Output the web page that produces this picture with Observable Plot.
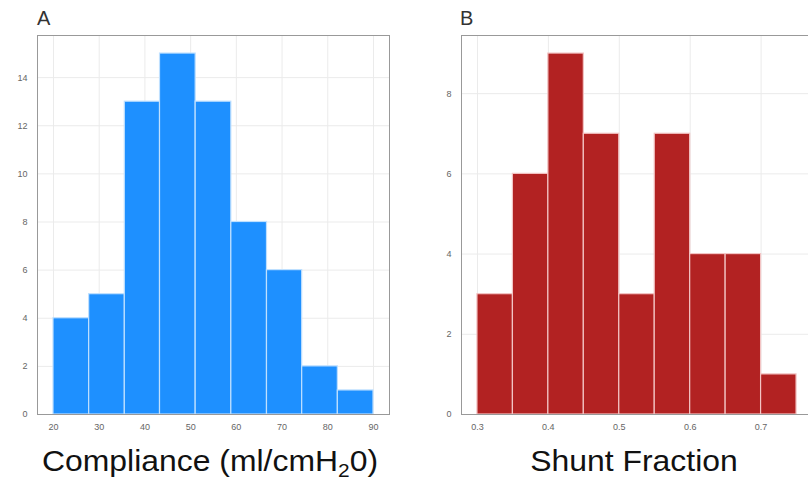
<!DOCTYPE html>
<html>
<head>
<meta charset="utf-8">
<script src="https://cdn.jsdelivr.net/npm/d3@7"></script>
<script src="https://cdn.jsdelivr.net/npm/@observablehq/plot@0.6"></script>
<style>
  html, body { margin: 0; padding: 0; background: #fff; }
  body { width: 808px; height: 483px; overflow: hidden; position: relative; font-family: "Liberation Sans", Arial, sans-serif; }
  .panel { position: absolute; top: 0; line-height: 0; width: 420px; }
  .panel svg { display: block; max-width: none !important; }
  .lbl { position: absolute; top: 7px; font-size: 20px; color: #333; line-height: 1.15; }
  .xlab { position: absolute; top: 445px; font-size: 29px; color: #111; transform: translateX(-50%) scaleX(1.1); white-space: nowrap; line-height: 1.15; }
  .xlab sub { font-size: 19px; vertical-align: -6px; line-height: 0; }
</style>
</head>
<body>
<div id="a" class="panel" style="left:0px"></div>
<div id="b" class="panel" style="left:400px"></div>
<div class="lbl" style="left:37px">A</div>
<div class="lbl" style="left:460px">B</div>
<div class="xlab" style="left:210px">Compliance (ml/cmH<sub>2</sub>0)</div>
<div class="xlab" style="left:634px">Shunt Fraction</div>
<script>
// Panel A: Compliance histogram
const complianceEdges = [20, 27.8, 35.6, 43.3, 51.1, 58.9, 66.7, 74.4, 82.2, 90];
const complianceCounts = [4, 5, 13, 15, 13, 8, 6, 2, 1];
const complianceXTicks = [20, 30, 40, 50, 60, 70, 80, 90];
const complianceYTicks = [0, 2, 4, 6, 8, 10, 12, 14];

// Panel B: Shunt fraction histogram
const shuntEdges = [0.30, 0.35, 0.40, 0.45, 0.50, 0.55, 0.60, 0.65, 0.70, 0.75];
const shuntCounts = [3, 6, 9, 7, 3, 7, 4, 4, 1];
const shuntXTicks = [0.3, 0.4, 0.5, 0.6, 0.7];
const shuntYTicks = [0, 2, 4, 6, 8];

function bins(edges, counts) {
  return counts.map((c, i) => ({x1: edges[i], x2: edges[i + 1], y: c}));
}

function hist({edges, counts, xTicks, yTicks, color, edgeColor, width, marginLeft, marginRight, xPad, yMax, xFmt}) {
  const lo = edges[0], hi = edges[edges.length - 1];
  const pad = (hi - lo) * xPad;
  return Plot.plot({
    width, height: 440,
    marginLeft, marginRight, marginTop: 35, marginBottom: 26,
    style: {fontFamily: "'Liberation Sans', Arial, sans-serif", fontSize: "9px", color: "#666", background: "#fff", overflow: "visible"},
    x: {domain: [lo - pad, hi + pad], ticks: xTicks, tickSize: 0, tickPadding: 9, tickFormat: xFmt, label: null},
    y: {domain: [0, yMax], ticks: yTicks, tickSize: 0, tickPadding: 10, label: null},
    marks: [
      Plot.gridX(xTicks, {stroke: "#ebebeb", strokeOpacity: 1}),
      Plot.gridY(yTicks, {stroke: "#ebebeb", strokeOpacity: 1}),
      Plot.rectY(bins(edges, counts), {x1: "x1", x2: "x2", y: "y", fill: color, stroke: edgeColor, strokeWidth: 1.2}),
      Plot.frame({stroke: "#999", strokeWidth: 1})
    ]
  });
}

document.getElementById("a").append(hist({
  edges: complianceEdges, counts: complianceCounts, xTicks: complianceXTicks, yTicks: complianceYTicks,
  color: "#1e90ff", edgeColor: "#bfe0ff", width: 400, marginLeft: 37, marginRight: 11, xPad: 0.05,
  yMax: d3.max(complianceCounts) * 1.05, xFmt: d => d
}));

document.getElementById("b").append(hist({
  edges: shuntEdges, counts: shuntCounts, xTicks: shuntXTicks, yTicks: shuntYTicks,
  color: "#b22222", edgeColor: "#f3c4c4", width: 412, marginLeft: 61, marginRight: 0, xPad: 0.05,
  yMax: d3.max(shuntCounts) * 1.05, xFmt: d => d.toFixed(1)
}));
</script>
</body>
</html>
